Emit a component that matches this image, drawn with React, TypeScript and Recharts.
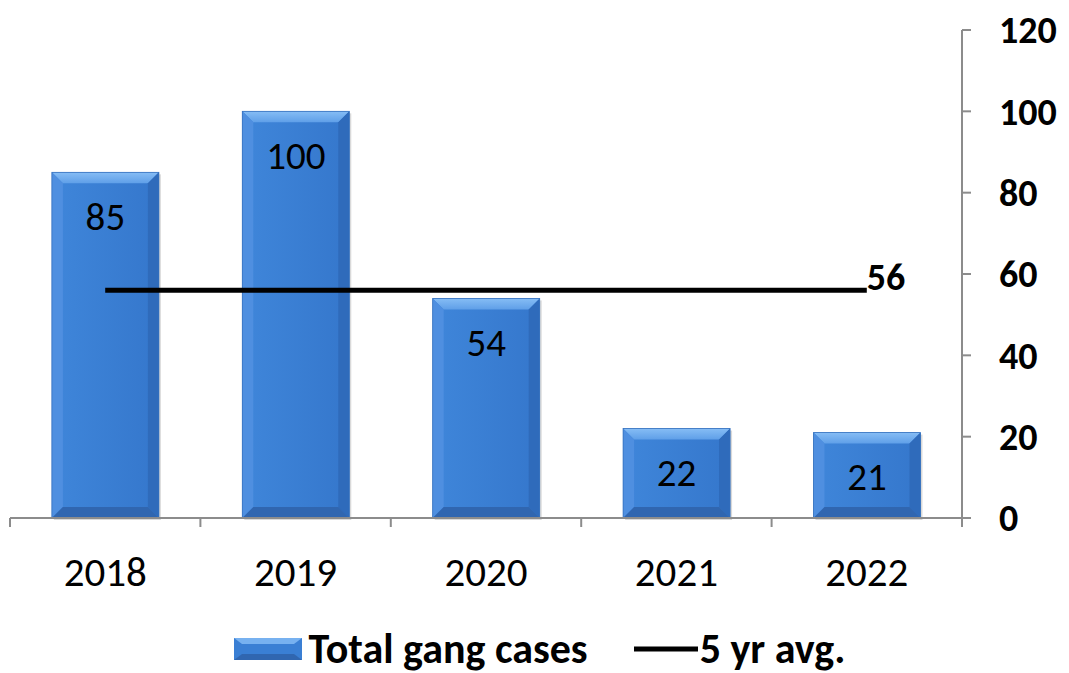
import React from 'react';
import {
  Bar,
  ComposedChart,
  LabelList,
  Legend,
  Line,
  XAxis,
  YAxis,
} from 'recharts';

const years = ['2018', '2019', '2020', '2021', '2022'];
const gangCases = [85, 100, 54, 22, 21];
const fiveYearAvg = [56, 56, 56, 56, 56];
const yTicks = [0, 20, 40, 60, 80, 100, 120];

const data = years.map((year, i) => ({
  year,
  cases: gangCases[i],
  avg: fiveYearAvg[i],
}));

const FONT = 'Carlito, Lato, "Open Sans", sans-serif';
const AXIS_GREY = '#8c8c8c';

// bevelled blue bar, like the office 3D "bevel" fill
const BevelBar = (props: any) => {
  const { x, y, width, height } = props;
  if (!height || height <= 0) return null;
  const b = Math.min(11, width / 4, height / 2);
  const x2 = x + width;
  const y2 = y + height;
  return (
    <g>
      <rect x={x + 2} y={y + 2} width={width} height={height} fill='rgba(0,0,0,0.15)' />
      <rect x={x} y={y} width={width} height={height} fill='url(#barFace)' />
      {/* top bevel */}
      <polygon
        points={`${x},${y} ${x2},${y} ${x2 - b},${y + b} ${x + b},${y + b}`}
        fill='url(#bevelTop)'
      />
      {/* left bevel */}
      <polygon
        points={`${x},${y} ${x + b},${y + b} ${x + b},${y2 - b} ${x},${y2}`}
        fill='#4f8fe0'
      />
      {/* right bevel */}
      <polygon
        points={`${x2},${y} ${x2},${y2} ${x2 - b},${y2 - b} ${x2 - b},${y + b}`}
        fill='#2f6bbb'
      />
      {/* bottom bevel */}
      <polygon
        points={`${x},${y2} ${x + b},${y2 - b} ${x2 - b},${y2 - b} ${x2},${y2}`}
        fill='#3066b0'
      />
      <rect x={x} y={y} width={width} height={height} fill='none' stroke='#3470be' strokeWidth={0.8} />
    </g>
  );
};

const BarValue = (props: any) => {
  const { x, y, width, value } = props;
  return (
    <text
      x={x + width / 2}
      y={y + 44}
      textAnchor='middle'
      dominantBaseline='central'
      fontFamily={FONT}
      fontSize={39}
      fill='#000'
    >
      {value}
    </text>
  );
};

const AvgValue = (props: any) => {
  const { x, y, value, index } = props;
  if (index !== years.length - 1) return null;
  return (
    <text x={x} y={y} fontFamily={FONT} fontSize={38} fontWeight='bold' fill='#000'>
      {value}
    </text>
  );
};

// year label plus the little tick marks between categories
const YearTick = (props: any) => {
  const { x, y, payload, index, width, visibleTicksCount } = props;
  const half = width / visibleTicksCount / 2;
  return (
    <g>
      <line x1={x - half} y1={y} x2={x - half} y2={y + 9} stroke={AXIS_GREY} strokeWidth={2} />
      {index === visibleTicksCount - 1 && (
        <line x1={x + half} y1={y} x2={x + half} y2={y + 9} stroke={AXIS_GREY} strokeWidth={2} />
      )}
      <text
        x={x}
        y={y + 54}
        textAnchor='middle'
        dominantBaseline='central'
        fontFamily={FONT}
        fontSize={41}
        fill='#000'
      >
        {payload.value}
      </text>
    </g>
  );
};

const LegendContent = () => (
  <div
    style={{
      display: 'flex',
      justifyContent: 'center',
      alignItems: 'center',
      fontFamily: FONT,
      fontWeight: 'bold',
      fontSize: 42,
      lineHeight: '44px',
      color: '#000',
      paddingTop: 14,
    }}
  >
    <svg width={70} height={26} style={{ marginRight: 5 }}>
      <rect x={0} y={2} width={68} height={22} fill='#3a7fd4' />
      <polygon points='0,2 68,2 60,8 8,8' fill='#77b1f0' />
      <polygon points='0,24 8,18 60,18 68,24' fill='#3066b0' />
    </svg>
    <span>Total gang cases</span>
    <svg width={64} height={26} style={{ marginLeft: 46, marginRight: 2 }}>
      <line x1={0} y1={13} x2={64} y2={13} stroke='#000' strokeWidth={5} />
    </svg>
    <span>5 yr avg.</span>
  </div>
);

const App: React.FC = () => {
  return (
    <div style={{ position: 'absolute', left: 0, top: 0, background: '#fff' }}>
      <ComposedChart
        width={1069}
        height={673}
        data={data}
        margin={{ top: 30, right: 0, left: 10, bottom: 0 }}
        barCategoryGap='22%'
      >
        <defs>
          <linearGradient id='barFace' x1='0' y1='0' x2='1' y2='0'>
            <stop offset='0%' stopColor='#3f86da' />
            <stop offset='100%' stopColor='#3577cc' />
          </linearGradient>
          <linearGradient id='bevelTop' x1='0' y1='0' x2='0' y2='1'>
            <stop offset='0%' stopColor='#86bdf5' />
            <stop offset='100%' stopColor='#5f9fe8' />
          </linearGradient>
        </defs>
        <XAxis
          dataKey='year'
          height={95}
          axisLine={{ stroke: AXIS_GREY, strokeWidth: 2 }}
          tickLine={false}
          tickSize={0}
          tickMargin={0}
          interval={0}
          tick={<YearTick />}
        />
        <YAxis
          orientation='right'
          width={107}
          domain={[0, 120]}
          ticks={yTicks}
          interval={0}
          axisLine={{ stroke: AXIS_GREY, strokeWidth: 2 }}
          tickLine={{ stroke: AXIS_GREY, strokeWidth: 2 }}
          tickSize={9}
          tickMargin={28}
          tick={{ fontFamily: FONT, fontSize: 38, fontWeight: 'bold', fill: '#000' }}
        />
        <Legend verticalAlign='bottom' height={60} content={<LegendContent />} />
        <Bar dataKey='cases' name='Total gang cases' shape={<BevelBar />} isAnimationActive={false}>
          <LabelList dataKey='cases' content={<BarValue />} />
        </Bar>
        <Line
          dataKey='avg'
          name='5 yr avg.'
          stroke='#000'
          strokeWidth={5}
          dot={false}
          activeDot={false}
          isAnimationActive={false}
        >
          <LabelList dataKey='avg' content={<AvgValue />} />
        </Line>
      </ComposedChart>
    </div>
  );
};

export default App;
